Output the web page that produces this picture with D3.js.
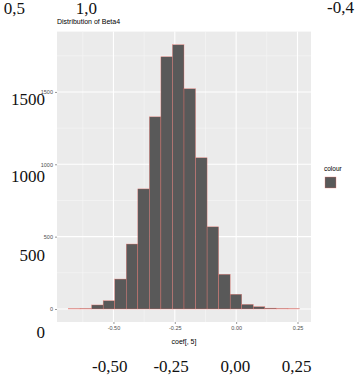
<!DOCTYPE html>
<html>
<head>
<meta charset="utf-8">
<script src="https://cdn.jsdelivr.net/npm/d3@7"></script>
<style>
  body { margin: 0; background: #fff; }
  svg { display: block; }
</style>
</head>
<body>
<div id="chart"></div>
<script>
// histogram of coef[, 5] (20 bins), counts
const binStart = -0.683;
const binEnd = 0.258;
const counts = [2, 3, 28, 57, 207, 449, 830, 1328, 1743, 1826, 1522, 1045, 568, 240, 102, 32, 16, 6, 3, 2];

const xTicks = [-0.5, -0.25, 0, 0.25];
const xTickLabels = ["-0.50", "-0.25", "0.00", "0.25"];
const yTicks = [0, 500, 1000, 1500];

// the big serif labels lying over the picture
const overTop = [{t: "0,5", x: 25, y: 14}, {t: "1,0", x: 97, y: 14}, {t: "-0,4", x: 354, y: 13}];
const overLeft = [{t: "1500", v: 1500, dy: 13}, {t: "1000", v: 1000, dy: 18}, {t: "500", v: 500, dy: 24}, {t: "0", v: 0, dy: 29}];
const overBottom = ["-0,50", "-0,25", "0,00", "0,25"];

const W = 357, H = 375;
const panel = {left: 57, right: 311, top: 31.6, bottom: 322};

const svg = d3.select("#chart")
  .append("svg")
  .attr("width", W)
  .attr("height", H);

const binW = (binEnd - binStart) / counts.length;
const bins = counts.map((c, i) => ({x0: binStart + i * binW, x1: binStart + (i + 1) * binW, n: c}));

const x = d3.scaleLinear().domain([-0.73, 0.305]).range([panel.left, panel.right]);
const y = d3.scaleLinear().domain([0, 1917]).range([309, panel.top]);

// panel background
svg.append("rect")
  .attr("x", panel.left).attr("y", panel.top)
  .attr("width", panel.right - panel.left)
  .attr("height", panel.bottom - panel.top)
  .attr("fill", "#ebebeb");

// minor grid
const xMinor = [-0.625, -0.375, -0.125, 0.125];
const yMinor = [250, 750, 1250, 1750];
svg.append("g").selectAll("line")
  .data(xMinor).join("line")
  .attr("x1", d => x(d)).attr("x2", d => x(d))
  .attr("y1", panel.top).attr("y2", panel.bottom)
  .attr("stroke", "#f7f7f7").attr("stroke-width", 0.6);
svg.append("g").selectAll("line")
  .data(yMinor).join("line")
  .attr("y1", d => y(d)).attr("y2", d => y(d))
  .attr("x1", panel.left).attr("x2", panel.right)
  .attr("stroke", "#f7f7f7").attr("stroke-width", 0.6);

// major grid
svg.append("g").selectAll("line")
  .data(xTicks).join("line")
  .attr("x1", d => x(d)).attr("x2", d => x(d))
  .attr("y1", panel.top).attr("y2", panel.bottom)
  .attr("stroke", "#fff").attr("stroke-width", 1.1);
svg.append("g").selectAll("line")
  .data(yTicks).join("line")
  .attr("y1", d => y(d)).attr("y2", d => y(d))
  .attr("x1", panel.left).attr("x2", panel.right)
  .attr("stroke", "#fff").attr("stroke-width", 1.1);

// bars
svg.append("g").selectAll("rect")
  .data(bins).join("rect")
  .attr("x", d => x(d.x0))
  .attr("y", d => y(d.n))
  .attr("width", d => x(d.x1) - x(d.x0))
  .attr("height", d => y(0) - y(d.n))
  .attr("fill", "#595959")
  .attr("stroke", "#f8766d")
  .attr("stroke-opacity", 0.75)
  .attr("stroke-width", 0.45);

// axes (ggplot look: small grey ticks, no domain line)
const xAxis = svg.append("g")
  .attr("transform", `translate(0,${panel.bottom})`)
  .call(d3.axisBottom(x).tickValues(xTicks).tickFormat((d, i) => xTickLabels[i]).tickSize(2).tickPadding(2));
const yAxis = svg.append("g")
  .attr("transform", `translate(${panel.left},0)`)
  .call(d3.axisLeft(y).tickValues(yTicks).tickFormat(d3.format("d")).tickSize(2).tickPadding(2));
[xAxis, yAxis].forEach(a => {
  a.select(".domain").remove();
  a.selectAll(".tick line").attr("stroke", "#333").attr("stroke-width", 0.5);
  a.selectAll(".tick text")
    .attr("fill", "#4d4d4d")
    .style("font-family", "Liberation Sans, Arial, sans-serif")
    .style("font-size", "5.5px");
});

// title and axis title
svg.append("text")
  .attr("x", panel.left).attr("y", 24)
  .style("font-family", "Liberation Sans, Arial, sans-serif")
  .style("font-size", "7px")
  .attr("fill", "#000")
  .text("Distribution of Beta4");
svg.append("text")
  .attr("x", (panel.left + panel.right) / 2).attr("y", 344)
  .attr("text-anchor", "middle")
  .style("font-family", "Liberation Sans, Arial, sans-serif")
  .style("font-size", "7px")
  .text("coef[, 5]");

// legend
svg.append("text")
  .attr("x", 324).attr("y", 171)
  .style("font-family", "Liberation Sans, Arial, sans-serif")
  .style("font-size", "6.5px")
  .text("colour");
svg.append("rect")
  .attr("x", 325).attr("y", 177)
  .attr("width", 11).attr("height", 11)
  .attr("fill", "#595959")
  .attr("stroke", "#f8766d")
  .attr("stroke-opacity", 0.75)
  .attr("stroke-width", 0.45);

// overlaid serif numbers
const serif = g => g
  .style("font-family", "Liberation Serif, Times New Roman, serif")
  .style("font-size", "17px")
  .attr("fill", "#111")
  .attr("text-anchor", "end");

svg.append("g").call(serif).selectAll("text")
  .data(overTop).join("text")
  .attr("x", d => d.x).attr("y", d => d.y)
  .text(d => d.t);
svg.append("g").call(serif).selectAll("text")
  .data(overLeft).join("text")
  .attr("x", 45).attr("y", d => y(d.v) + d.dy)
  .text(d => d.t);
svg.append("g").call(serif).selectAll("text")
  .data(overBottom).join("text")
  .attr("x", (d, i) => x(xTicks[i]) + 14)
  .attr("y", 372)
  .text(d => d);
</script>
</body>
</html>
